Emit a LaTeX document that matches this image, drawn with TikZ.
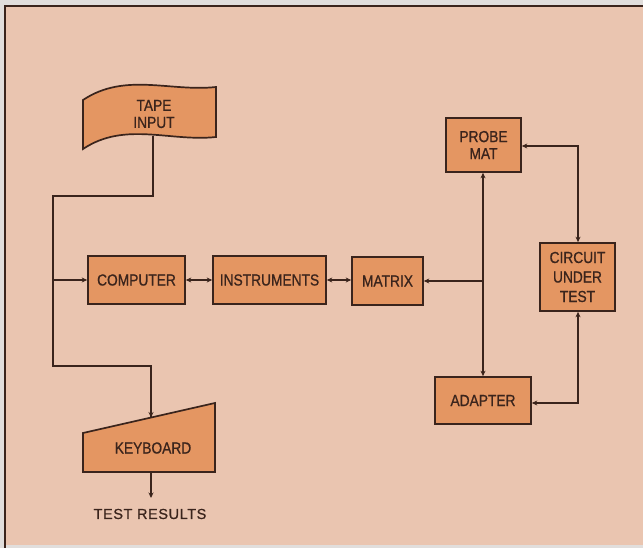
\documentclass[tikz,border=0pt]{standalone}
\usepackage{fontspec}
\setmainfont{Liberation Sans}[FakeBold=0.8,LetterSpace=4]
\newfontfamily\boxfont{Liberation Sans}[FakeStretch=0.86,FakeBold=0.8]
\usetikzlibrary{arrows.meta}
\definecolor{paper}{RGB}{234,197,176}
\definecolor{edgegray}{RGB}{225,222,220}
\definecolor{boxfill}{RGB}{228,150,98}
\definecolor{ink}{RGB}{58,36,28}
\begin{document}
\begin{tikzpicture}[x=1pt,y=-1pt,
  lbl/.style={font=\boxfont\fontsize{16}{17}\selectfont,text=ink,align=center},
  blk/.style={draw=ink,fill=boxfill,line width=1.7pt,minimum width=#1,inner sep=0pt,lbl},
  conn/.style={draw=ink,line width=1.7pt},
  tip/.style={-{Stealth[length=5.5pt,width=5pt]}},
  tips/.style={{Stealth[length=5.5pt,width=5pt]}-{Stealth[length=5.5pt,width=5pt]}}]
\useasboundingbox (0,0) rectangle (643,548);
\fill[edgegray] (0,0) rectangle (643,548);
\fill[paper] (5,6) rectangle (643,545);
\draw[ink,line width=2pt] (5,548) -- (5,6) -- (643,6);
% tape input
\filldraw[draw=ink,fill=boxfill,line width=1.7pt]
  (83,100) .. controls (125,72) and (170,92) .. (216,87) -- (216,137)
  .. controls (170,142) and (125,121) .. (83,149) -- cycle;
\node[lbl] (tape) at (154,114) {TAPE\\INPUT};
\coordinate (tapeout) at (153,136);
% keyboard
\filldraw[draw=ink,fill=boxfill,line width=1.7pt]
  (83,433) -- (215,403) -- (215,472) -- (83,472) -- cycle;
\node[lbl] (kbd) at (153,448) {KEYBOARD};
\coordinate (kbdin) at (151,417.5);
\coordinate (kbdout) at (151,472);
\node[font=\fontsize{14.5}{17}\selectfont,text=ink] (res) at (150,514) {TEST RESULTS};
% boxes
\node[blk=97pt,minimum height=48pt] (comp) at (136.5,280) {COMPUTER};
\node[blk=113pt,minimum height=48pt] (inst) at (269.5,280) {INSTRUMENTS};
\node[blk=71pt,minimum height=48pt] (mat) at (387.5,281) {MATRIX};
\node[blk=75pt,minimum height=54pt] (probe) at (483.5,145) {PROBE\\MAT};
\node[blk=75pt,minimum height=68pt,font=\boxfont\fontsize{16}{19.5}\selectfont] (cut) at (577.5,277) {CIRCUIT\\UNDER\\TEST};
\node[blk=96pt,minimum height=47pt] (adapt) at (483,400.5) {ADAPTER};
% connectors on the left
\draw[conn] (tapeout) -- (153,196) -- (53,196) -- (53,366) -- (151,366) -- (kbdin);
\draw[conn,tip] (kbdin) ++(0,-12) -- (kbdin);
\draw[conn,tip] (53,280) -- (comp.west);
\draw[conn,tip] (kbdout) -- (151,498);
% row
\draw[conn,tips] (comp.east) -- (inst.west);
\draw[conn,tips] (inst.east) -- (mat.west |- inst.east);
% bus
\draw[conn,tips] (probe.south -| 483,0) -- (adapt.north -| 483,0);
\draw[conn,tip] (483,281) -- (mat.east);
% circuit loops
\draw[conn,tips] (probe.east |- 0,146) -- (578,146) -- (cut.north -| 578,0);
\draw[conn,tips] (adapt.east |- 0,403) -- (578,403) -- (cut.south -| 578,0);
\end{tikzpicture}
\end{document}
